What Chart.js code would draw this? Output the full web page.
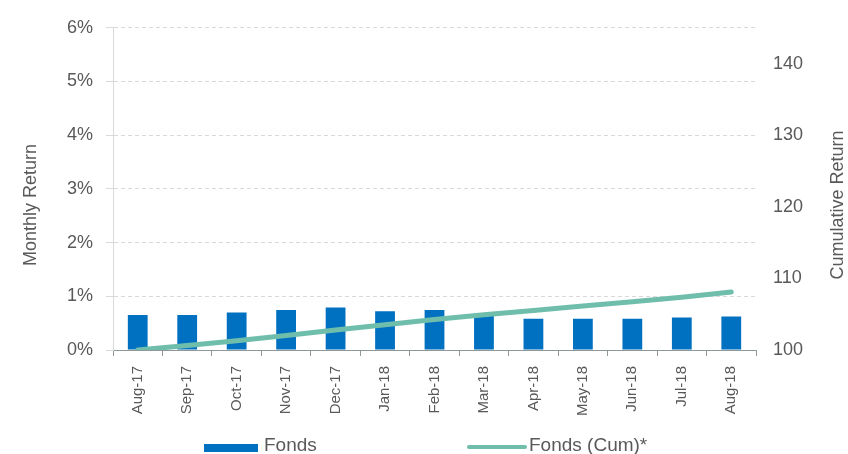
<!DOCTYPE html>
<html>
<head>
<meta charset="utf-8">
<script src="https://cdn.jsdelivr.net/npm/chart.js@4/dist/chart.umd.min.js"></script>
<style>
    html, body { margin: 0; padding: 0; background: #fff; }
    #wrap { position: relative; width: 848px; height: 454px; font-family: "Liberation Sans", Arial, sans-serif; color: #595959; }
    .lg { position: absolute; }
    .lg-text { font-size: 19px; line-height: 19px; white-space: nowrap; }
</style>
</head>
<body>
<div id="wrap">
    <canvas id="chart" width="848" height="454"></canvas>
    <div class="lg" style="left:204px;top:444px;width:54px;height:8px;background:#0070C0;"></div>
    <div class="lg lg-text" style="left:264px;top:435px;">Fonds</div>
    <div class="lg" style="left:467px;top:445px;width:60px;height:4px;border-radius:2px;background:#6FBEAC;"></div>
    <div class="lg lg-text" style="left:529px;top:435px;">Fonds (Cum)*</div>
</div>
<script>
const months = ['Aug-17', 'Sep-17', 'Oct-17', 'Nov-17', 'Dec-17', 'Jan-18', 'Feb-18',
    'Mar-18', 'Apr-18', 'May-18', 'Jun-18', 'Jul-18', 'Aug-18'];
// monthly return in %
const monthlyReturn = [0.65, 0.65, 0.70, 0.745, 0.79, 0.72, 0.745, 0.64, 0.58, 0.58, 0.58, 0.605, 0.625];
// cumulative index, Aug-17 = 100
const cumulative = [100, 100.62, 101.3, 102.02, 102.8, 103.52, 104.27, 104.93, 105.53, 106.13, 106.73, 107.37, 108.1];
const leftTicks = [0, 1, 2, 3, 4, 5, 6];
const rightTicks = [100, 110, 120, 130, 140];

const FONT = '"Liberation Sans", Arial, sans-serif';
const TEXT = '#595959';

// axis titles: both read bottom-to-top
const axisTitles = {
    id: 'axisTitles',
    afterDraw(chart) {
        const ctx = chart.ctx;
        const draw = (text, x, y) => {
            ctx.save();
            ctx.translate(x, y);
            ctx.rotate(-Math.PI / 2);
            ctx.font = '18px ' + FONT;
            ctx.fillStyle = TEXT;
            ctx.textAlign = 'center';
            ctx.textBaseline = 'middle';
            ctx.fillText(text, 0, 0);
            ctx.restore();
        };
        draw('Monthly Return', 31, 205);
        draw('Cumulative Return', 838, 205);
    }
};

new Chart(document.getElementById('chart'), {
    type: 'bar',
    data: {
        labels: months,
        datasets: [
            {
                type: 'line',
                label: 'Fonds (Cum)*',
                data: cumulative,
                yAxisID: 'y1',
                borderColor: '#6FBEAC',
                borderWidth: 5,
                borderCapStyle: 'round',
                pointRadius: 0,
                tension: 0,
                order: 0
            },
            {
                label: 'Fonds',
                data: monthlyReturn,
                yAxisID: 'y',
                backgroundColor: '#0070C0',
                categoryPercentage: 1,
                barPercentage: 0.4,
                order: 1
            }
        ]
    },
    options: {
        responsive: false,
        animation: false,
        layout: { padding: { top: 25, bottom: 0, left: 0, right: 0 } },
        plugins: {
            legend: { display: false },
            tooltip: { enabled: false }
        },
        scales: {
            x: {
                afterFit: s => { s.height = 104; },
                border: { color: '#8E9898', width: 1 },
                grid: { drawOnChartArea: false, tickLength: 6, color: '#8E9898', offset: true },
                ticks: {
                    minRotation: 90, maxRotation: 90, padding: 10,
                    color: TEXT, font: { family: FONT, size: 15 }
                }
            },
            y: {
                position: 'left',
                min: 0, max: 6,
                afterFit: s => { s.width = 113; },
                afterBuildTicks: s => { s.ticks = leftTicks.map(v => ({ value: v })); },
                border: { color: '#D9D9D9', width: 1, dash: [4, 3] },
                grid: { color: '#D9D9D9', tickLength: 7 },
                ticks: {
                    padding: 13, color: TEXT, font: { family: FONT, size: 18 },
                    callback: v => v + '%'
                }
            },
            y1: {
                position: 'right',
                min: 100, max: 145,
                afterFit: s => { s.width = 92; },
                afterBuildTicks: s => { s.ticks = rightTicks.map(v => ({ value: v })); },
                border: { display: false },
                grid: { display: false, drawTicks: false },
                ticks: { padding: 17, color: TEXT, font: { family: FONT, size: 18 } }
            }
        }
    },
    plugins: [axisTitles]
});
</script>
</body>
</html>
